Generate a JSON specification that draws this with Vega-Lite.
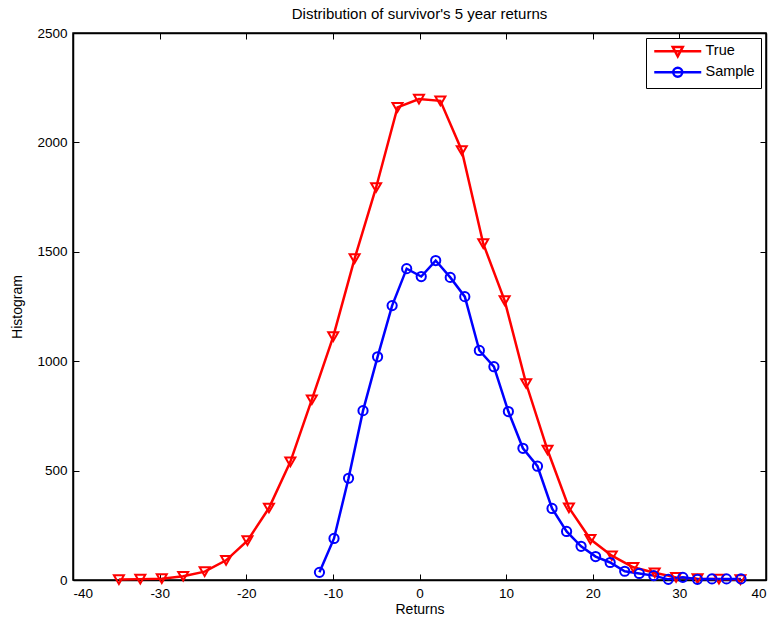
{
  "$schema": "https://vega.github.io/schema/vega-lite/v6.json",
  "width": 693,
  "height": 547,
  "autosize": {"type": "none"},
  "padding": {"left": 73, "top": 33, "right": 8, "bottom": 42},
  "background": "white",
  "title": {"text": "Distribution of survivor's 5 year returns", "font": "Liberation Sans", "fontSize": 15, "fontWeight": "normal", "color": "black", "offset": 4},
  "config": {
    "view": {"stroke": "black", "strokeWidth": 1.5},
    "axis": {"labelFont": "Liberation Sans", "labelFontSize": 13.5, "labelColor": "black", "titleFont": "Liberation Sans", "titleFontSize": 14, "titleFontWeight": "normal", "titleColor": "black", "domainColor": "black", "domainWidth": 1.5, "tickColor": "black", "tickWidth": 1, "grid": false, "labelExpr": "datum.value + ''"}
  },
  "data": {"values": [
    {"series": "True", "x": -34.70, "y": 2},
    {"series": "True", "x": -32.23, "y": 4},
    {"series": "True", "x": -29.75, "y": 6},
    {"series": "True", "x": -27.28, "y": 17},
    {"series": "True", "x": -24.80, "y": 38},
    {"series": "True", "x": -22.33, "y": 90},
    {"series": "True", "x": -19.86, "y": 180},
    {"series": "True", "x": -17.38, "y": 329},
    {"series": "True", "x": -14.91, "y": 540},
    {"series": "True", "x": -12.43, "y": 824},
    {"series": "True", "x": -9.96, "y": 1112},
    {"series": "True", "x": -7.49, "y": 1469},
    {"series": "True", "x": -5.01, "y": 1794},
    {"series": "True", "x": -2.54, "y": 2160},
    {"series": "True", "x": -0.06, "y": 2198},
    {"series": "True", "x": 2.41, "y": 2190},
    {"series": "True", "x": 4.88, "y": 1963},
    {"series": "True", "x": 7.36, "y": 1537},
    {"series": "True", "x": 9.83, "y": 1277},
    {"series": "True", "x": 12.31, "y": 898},
    {"series": "True", "x": 14.78, "y": 594},
    {"series": "True", "x": 17.25, "y": 330},
    {"series": "True", "x": 19.73, "y": 186},
    {"series": "True", "x": 22.20, "y": 111},
    {"series": "True", "x": 24.68, "y": 58},
    {"series": "True", "x": 27.15, "y": 33},
    {"series": "True", "x": 29.62, "y": 12},
    {"series": "True", "x": 32.10, "y": 6},
    {"series": "True", "x": 34.57, "y": 4},
    {"series": "True", "x": 37.05, "y": 2},
    {"series": "Sample", "x": -11.55, "y": 35},
    {"series": "Sample", "x": -9.87, "y": 190},
    {"series": "Sample", "x": -8.19, "y": 465},
    {"series": "Sample", "x": -6.52, "y": 774},
    {"series": "Sample", "x": -4.84, "y": 1020},
    {"series": "Sample", "x": -3.16, "y": 1254},
    {"series": "Sample", "x": -1.48, "y": 1423},
    {"series": "Sample", "x": 0.20, "y": 1387},
    {"series": "Sample", "x": 1.87, "y": 1460},
    {"series": "Sample", "x": 3.55, "y": 1383},
    {"series": "Sample", "x": 5.23, "y": 1295},
    {"series": "Sample", "x": 6.91, "y": 1049},
    {"series": "Sample", "x": 8.59, "y": 975},
    {"series": "Sample", "x": 10.26, "y": 770},
    {"series": "Sample", "x": 11.94, "y": 602},
    {"series": "Sample", "x": 13.62, "y": 520},
    {"series": "Sample", "x": 15.30, "y": 327},
    {"series": "Sample", "x": 16.98, "y": 222},
    {"series": "Sample", "x": 18.65, "y": 154},
    {"series": "Sample", "x": 20.33, "y": 107},
    {"series": "Sample", "x": 22.01, "y": 80},
    {"series": "Sample", "x": 23.69, "y": 40},
    {"series": "Sample", "x": 25.37, "y": 30},
    {"series": "Sample", "x": 27.04, "y": 20},
    {"series": "Sample", "x": 28.72, "y": 3},
    {"series": "Sample", "x": 30.40, "y": 12},
    {"series": "Sample", "x": 32.08, "y": 3},
    {"series": "Sample", "x": 33.76, "y": 5},
    {"series": "Sample", "x": 35.44, "y": 5},
    {"series": "Sample", "x": 37.11, "y": 5}
  ]},
  "resolve": {"axis": {"x": "independent", "y": "independent"}},
  "layer": [
    {
      "mark": {"type": "line", "strokeWidth": 2.5},
      "encoding": {
        "x": {"field": "x", "type": "quantitative", "scale": {"domain": [-40, 40], "nice": false, "zero": false}, "axis": {"title": "Returns", "values": [-40, -30, -20, -10, 0, 10, 20, 30, 40], "tickSize": -6, "labelPadding": 12, "titlePadding": 3, "orient": "bottom"}},
        "y": {"field": "y", "type": "quantitative", "scale": {"domain": [0, 2500], "nice": false}, "axis": {"title": "Histogram", "values": [0, 500, 1000, 1500, 2000, 2500], "tickSize": -6, "labelPadding": 12, "titlePadding": 12, "orient": "left"}},
        "color": {"field": "series", "type": "nominal", "scale": {"domain": ["True", "Sample"], "range": ["#ff0000", "#0000ff"]},
          "legend": {"title": null, "orient": "top-right", "offset": 5, "fillColor": "white", "strokeColor": "black", "padding": 6, "rowPadding": 0, "labelFont": "Liberation Sans", "labelFontSize": 14.5, "labelColor": "black", "labelOffset": 39, "symbolSize": 100, "symbolStrokeWidth": 2.5, "symbolFillColor": "transparent",
            "symbolType": "M-1,0L8.4,0",
            "encode": {"symbols": {"update": {"shape": {"signal": "datum.value === 'True' ? 'M-1,0L8.4,0M2.7,-0.85L4.7,-0.85L3.7,1Z' : 'M-1,0L8.4,0M4.6,0A0.9,0.9,0,1,1,2.8,0A0.9,0.9,0,1,1,4.6,0'"}}}}
          }}
      }
    },
    {
      "mark": {"type": "point", "filled": false, "strokeWidth": 2, "opacity": 1},
      "encoding": {
        "x": {"field": "x", "type": "quantitative", "axis": {"title": null, "values": [-40, -30, -20, -10, 0, 10, 20, 30, 40], "labels": false, "tickSize": -6, "orient": "top"}},
        "y": {"field": "y", "type": "quantitative", "axis": {"title": null, "values": [0, 500, 1000, 1500, 2000, 2500], "labels": false, "tickSize": -6, "orient": "right"}},
        "color": {"field": "series", "type": "nominal", "legend": null},
        "shape": {"condition": {"test": "datum.series === 'True'", "value": "triangle-down"}, "value": "circle"},
        "size": {"condition": {"test": "datum.series === 'True'", "value": 100}, "value": 85}
      }
    }
  ]
}
